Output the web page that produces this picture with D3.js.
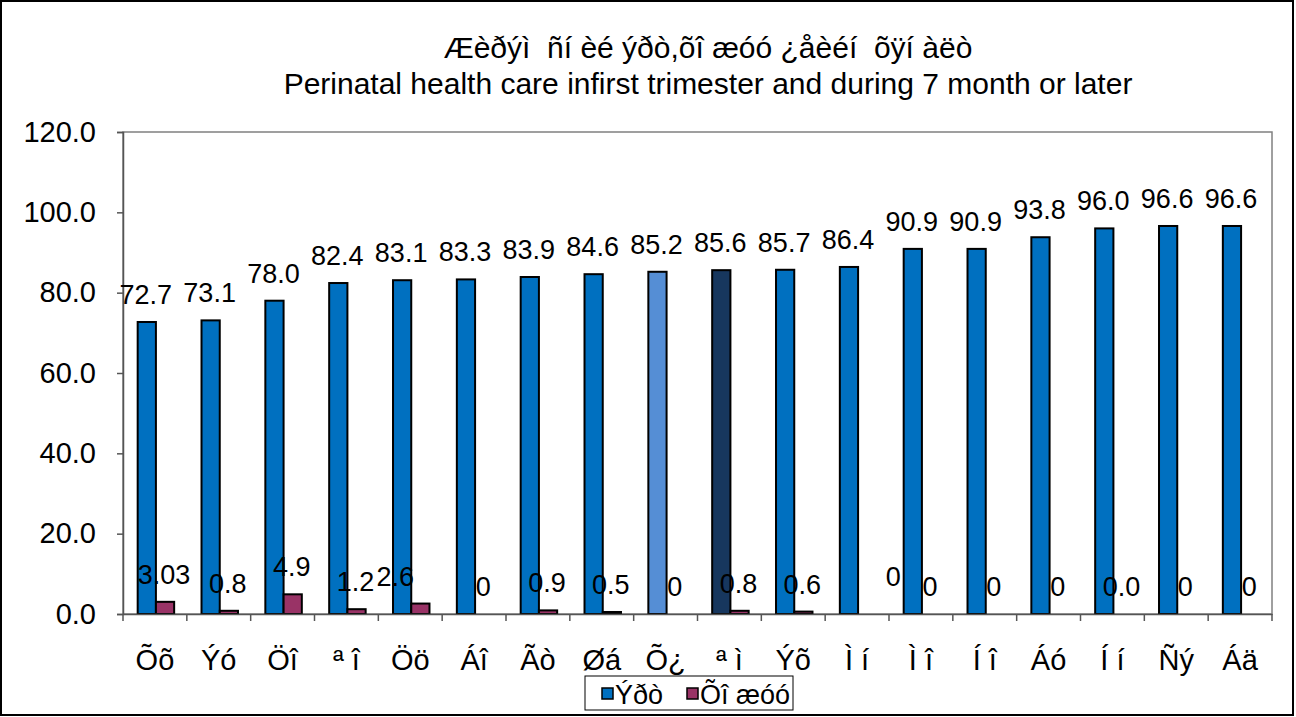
<!DOCTYPE html>
<html>
<head>
<meta charset="utf-8">
<script src="https://cdn.jsdelivr.net/npm/d3@7"></script>
<style>
  body { margin: 0; background: #fff; }
  text { font-family: "Liberation Sans", Arial, sans-serif; fill: #000; }
</style>
</head>
<body>
<div id="canvas"></div>
<script>
const categories = ["Õõ", "Ýó", "Öî", "ª î", "Öö", "Áî", "Ãò", "Øá", "Õ¿", "ª ì", "Ýõ", "Ì í", "Ì î", "Í î", "Áó", "Í í", "Ñý", "Áä"];
const firstTrimester = [72.7, 73.1, 78.0, 82.4, 83.1, 83.3, 83.9, 84.6, 85.2, 85.6, 85.7, 86.4, 90.9, 90.9, 93.8, 96.0, 96.6, 96.6];
const lateVisit = [3.03, 0.8, 4.9, 1.2, 2.6, 0, 0.9, 0.5, 0, 0.8, 0.6, 0, 0, 0, 0, 0, 0, 0];
const lateLabels = ["3.03", "0.8", "4.9", "1.2", "2.6", "0", "0.9", "0.5", "0", "0.8", "0.6", "0", "0", "0", "0", "0.0", "0", "0"];
const seriesNames = ["Ýðò", "Õî æóó"];
const yTicks = [0, 20, 40, 60, 80, 100, 120];
const titleLines = ["Æèðýì  ñí èé ýðò,õî æóó ¿åèéí  õÿí àëò", "Perinatal health care infirst trimester and during 7 month or later"];

const width = 1296;
const height = 717;
const margin = { top: 132, left: 123, bottom: 103, right: 24 };
const iwidth = width - margin.left - margin.right;
const iheight = height - margin.top - margin.bottom;

const blue = "#0070c0";
const pink = "#993366";
// a couple of bars were recoloured in the original
const blueOverride = { 8: "#558ed5", 9: "#17375e" };
// hand-moved labels in the original
const labelShift = { 4: [-24, 0], 11: [27, -10] };

const svg = d3.select("#canvas").append("svg")
    .attr("width", width)
    .attr("height", height);

svg.append("rect")
    .attr("x", 1).attr("y", 1)
    .attr("width", width - 4).attr("height", height - 3)
    .attr("fill", "#fff")
    .attr("stroke", "#000")
    .attr("stroke-width", 2);

let g = svg.append("g").attr("transform", `translate(${margin.left},${margin.top})`);

const x = d3.scaleBand()
    .domain(categories)
    .range([0, iwidth]);

const xs = d3.scaleBand()
    .domain([0, 1])
    .range([0, x.bandwidth()])
    .paddingOuter(0.75);

const y = d3.scaleLinear()
    .domain([0, 120])
    .range([iheight, 0]);

// plot area frame
g.append("rect")
    .attr("width", iwidth)
    .attr("height", iheight)
    .attr("fill", "none")
    .attr("stroke", "#808080")
    .attr("stroke-width", 1.5);

const data = categories.map((c, i) => ({ c, i, a: firstTrimester[i], b: lateVisit[i], lb: lateLabels[i] }));

g.selectAll(".bar-a").data(data).enter().append("rect")
    .attr("class", "bar-a")
    .attr("x", d => x(d.c) + xs(0) + 1)
    .attr("y", d => y(d.a))
    .attr("width", xs.bandwidth())
    .attr("height", d => y(0) - y(d.a))
    .attr("fill", d => blueOverride[d.i] || blue)
    .attr("stroke", "#000")
    .attr("stroke-width", 2);

g.selectAll(".bar-b").data(data).enter().append("rect")
    .attr("class", "bar-b")
    .attr("x", d => x(d.c) + xs(1) + 1)
    .attr("y", d => y(d.b))
    .attr("width", xs.bandwidth())
    .attr("height", d => y(0) - y(d.b))
    .attr("fill", pink)
    .attr("stroke", "#000")
    .attr("stroke-width", 2);

// y axis
const yAxis = g.append("g")
    .call(d3.axisLeft(y).tickValues(yTicks).tickFormat(d3.format(".1f")).tickSize(6).tickPadding(21));
yAxis.select(".domain").attr("stroke", "#555").attr("stroke-width", 1.5);
yAxis.selectAll(".tick line").attr("stroke", "#555").attr("stroke-width", 1.5);
yAxis.selectAll("text").style("font-size", "29px");

// x axis
const xAxis = g.append("g")
    .attr("transform", `translate(0,${iheight})`)
    .call(d3.axisBottom(x).tickSize(0).tickPadding(35));
xAxis.select(".domain").attr("stroke", "#555").attr("stroke-width", 1.5);
xAxis.selectAll("text").style("font-size", "29px").style("white-space", "pre");

g.append("g").selectAll("line")
    .data(categories.concat([null]))
    .enter().append("line")
    .attr("x1", (d, i) => i * x.step())
    .attr("x2", (d, i) => i * x.step())
    .attr("y1", iheight)
    .attr("y2", iheight + 7)
    .attr("stroke", "#555")
    .attr("stroke-width", 1.5);

// value labels
g.selectAll(".lab-a").data(data).enter().append("text")
    .attr("x", d => x(d.c) + xs(0) + xs.bandwidth() / 2)
    .attr("y", d => y(d.a) - 18)
    .attr("text-anchor", "middle")
    .style("font-size", "27px")
    .text(d => d3.format(".1f")(d.a));

g.selectAll(".lab-b").data(data).enter().append("text")
    .attr("x", d => x(d.c) + xs(1) + xs.bandwidth() / 2 + (labelShift[d.i] ? labelShift[d.i][0] : 0))
    .attr("y", d => y(d.b) - 18 + (labelShift[d.i] ? labelShift[d.i][1] : 0))
    .attr("text-anchor", "middle")
    .style("font-size", "27px")
    .text(d => d.lb);

// title
svg.append("g").selectAll("text")
    .data(titleLines)
    .enter().append("text")
    .attr("x", 708)
    .attr("y", (d, i) => 58 + i * 36)
    .attr("text-anchor", "middle")
    .style("font-size", "30px")
    .style("white-space", "pre")
    .text(d => d);

// legend
const legend = svg.append("g");
legend.append("rect")
    .attr("x", 585).attr("y", 676)
    .attr("width", 208).attr("height", 34)
    .attr("fill", "#fff")
    .attr("stroke", "#000")
    .attr("stroke-width", 1);

const legX = [602, 687];
const legColors = [blue, pink];
seriesNames.forEach((name, i) => {
    legend.append("rect")
        .attr("x", legX[i]).attr("y", 688)
        .attr("width", 11).attr("height", 11)
        .attr("fill", legColors[i])
        .attr("stroke", "#000")
        .attr("stroke-width", 1.5);
    legend.append("text")
        .attr("x", legX[i] + 13)
        .attr("y", 704)
        .style("font-size", "27px")
        .style("white-space", "pre")
        .text(name);
});
</script>
</body>
</html>
